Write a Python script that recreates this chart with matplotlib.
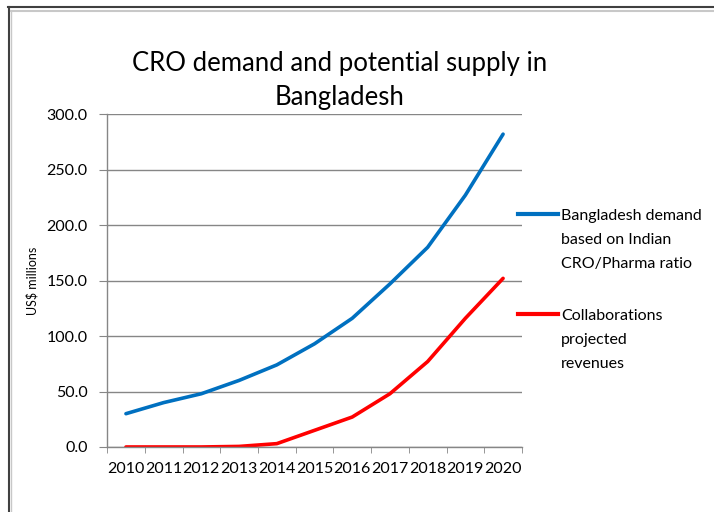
import numpy as np
import matplotlib.pyplot as plt
from matplotlib.lines import Line2D

# data
years = ['2010', '2011', '2012', '2013', '2014', '2015', '2016', '2017', '2018', '2019', '2020']
bd_demand = [30, 40, 48, 60, 74, 93, 116, 147, 180, 227, 282]
collab_revenue = [0, 0, 0, 0.5, 3, 15, 27, 48, 77, 116, 152]
yticks = [0, 50, 100, 150, 200, 250, 300]
blue_label = ['Bangladesh demand', 'based on Indian', 'CRO/Pharma ratio']
red_label = ['Collaborations', 'projected', 'revenues']

BLUE = '#0070C0'
RED = '#FF0000'

plt.rcParams['font.family'] = ['Lato', 'DejaVu Sans']

fig = plt.figure(figsize=(7.14, 5.12), dpi=100)
ax = fig.add_axes([0.150, 0.127, 0.581, 0.650])

x = np.arange(len(years))
ax.plot(x, bd_demand, color=BLUE, lw=2.6, solid_capstyle='round', solid_joinstyle='round')
ax.plot(x, collab_revenue, color=RED, lw=2.6, solid_capstyle='round', solid_joinstyle='round')

# axes styling, excel-like
ax.set_xlim(-0.5, len(years) - 0.5)
ax.set_ylim(0, 300)
ax.set_yticks(yticks)
ax.set_yticklabels(['%.1f' % v for v in yticks], fontsize=11.5)
ax.set_xticks(x)
ax.set_xticklabels(years, fontsize=11.5)
ax.set_xticks(np.arange(-0.5, len(years)), minor=True)
ax.tick_params(axis='x', which='major', length=0, pad=11)
ax.tick_params(axis='x', which='minor', length=4, color='#868686', direction='out')
ax.tick_params(axis='y', length=6, color='#868686', direction='out', pad=8)
ax.grid(axis='y', color='#868686', lw=1)
ax.set_axisbelow(True)
for s in ['top', 'right']:
    ax.spines[s].set_visible(False)
for s in ['left', 'bottom']:
    ax.spines[s].set_color('#868686')
    ax.spines[s].set_linewidth(1)

ax.set_ylabel('US$ millions', fontsize=9, labelpad=6)

fig.text(0.476, 0.876, 'CRO demand and potential supply in', ha='center', va='center', fontsize=18.5)
fig.text(0.476, 0.809, 'Bangladesh', ha='center', va='center', fontsize=18.5)


# legend: handle sits on the first line of each label, like excel
def make_legend(color, lines, top):
    handles = [Line2D([], [], color=color, lw=3)] + [Line2D([], [], color='none')] * (len(lines) - 1)
    return ax.legend(handles, lines, loc='upper left', bbox_to_anchor=(0.99, top), frameon=False,
                     fontsize=11.5, handlelength=2.5, handletextpad=0.2, labelspacing=0.62,
                     borderaxespad=0, borderpad=0)


leg1 = make_legend(BLUE, blue_label, 0.717)
ax.add_artist(leg1)
make_legend(RED, red_label, 0.416)

# outer frame of the screenshot
fig.add_artist(Line2D([0.011, 1.0], [0.986, 0.986], color='#404040', lw=1.5, transform=fig.transFigure))
fig.add_artist(Line2D([0.012, 0.012], [0.0, 0.986], color='#404040', lw=1.5, transform=fig.transFigure))
fig.add_artist(Line2D([0.016, 1.0], [0.979, 0.979], color='#c8c8c8', lw=1.5, transform=fig.transFigure))
fig.add_artist(Line2D([0.016, 0.016], [0.0, 0.979], color='#c8c8c8', lw=1.0, transform=fig.transFigure))

fig.savefig('out.png', dpi=100)
